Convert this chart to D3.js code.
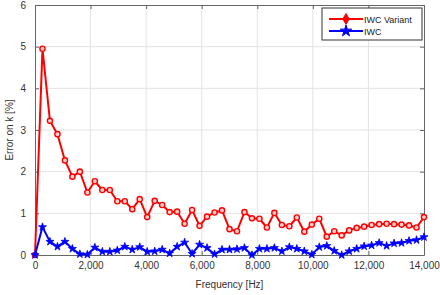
<!DOCTYPE html>
<html>
<head>
<meta charset="utf-8">
<script src="https://cdn.jsdelivr.net/npm/d3@7"></script>
<style>
  body { margin: 0; background: #fff; }
  svg { font-family: "Liberation Sans", Arial, sans-serif; }
  .grid line { stroke: #e3e3e3; stroke-width: 1; }
  .tick-label { fill: #333; font-size: 10px; }
  .axis-title { fill: #333; font-size: 10px; }
</style>
</head>
<body>
<svg id="chart" width="440" height="295"></svg>
<script>
// frequency samples [Hz]
const frequencies = [0, 269, 538, 808, 1077, 1346, 1615, 1885, 2154, 2423, 2692, 2962, 3231,
    3500, 3769, 4038, 4308, 4577, 4846, 5115, 5385, 5654, 5923, 6192, 6462, 6731, 7000,
    7269, 7538, 7808, 8077, 8346, 8615, 8885, 9154, 9423, 9692, 9962, 10231, 10500, 10769,
    11038, 11308, 11577, 11846, 12115, 12385, 12654, 12923, 13192, 13462, 13731, 14000];

const iwcVariant = [0, 4.95, 3.22, 2.9, 2.27, 1.88, 2.0, 1.5, 1.77, 1.56, 1.56, 1.29, 1.29,
    1.1, 1.34, 0.91, 1.3, 1.2, 1.03, 1.04, 0.75, 1.08, 0.7, 0.92, 1.02, 1.07, 0.62,
    0.57, 1.03, 0.88, 0.87, 0.66, 1.01, 0.72, 0.69, 0.9, 0.56, 0.73, 0.87, 0.44, 0.57,
    0.47, 0.59, 0.65, 0.68, 0.72, 0.74, 0.75, 0.74, 0.73, 0.71, 0.66, 0.91];

const iwc = [0, 0.67, 0.32, 0.2, 0.32, 0.15, 0.02, 0.01, 0.18, 0.08, 0.08, 0.11, 0.2,
    0.13, 0.19, 0.08, 0.09, 0.13, 0.04, 0.2, 0.3, 0.03, 0.25, 0.17, 0.02, 0.13, 0.13,
    0.14, 0.17, 0.0, 0.15, 0.15, 0.17, 0.09, 0.19, 0.15, 0.09, 0.01, 0.19, 0.22, 0.1,
    0.0, 0.09, 0.15, 0.21, 0.23, 0.29, 0.22, 0.28, 0.29, 0.34, 0.36, 0.43];

const xTicks = [0, 2000, 4000, 6000, 8000, 10000, 12000, 14000];
const yTicks = [0, 1, 2, 3, 4, 5, 6];
const seriesNames = ['IWC Variant', 'IWC'];

const margin = { top: 5, right: 16, bottom: 40, left: 35 };
const width = 440 - margin.left - margin.right;
const height = 295 - margin.top - margin.bottom;

const svg = d3.select('#chart');
const g = svg.append('g').attr('transform', `translate(${margin.left},${margin.top})`);

const x = d3.scaleLinear().domain([0, 14000]).range([0, width]);
const y = d3.scaleLinear().domain([0, 6]).range([height, 0]);

// grid
const grid = g.append('g').attr('class', 'grid');
grid.selectAll('line.gx').data(xTicks.slice(1, -1)).enter().append('line')
    .attr('x1', d => x(d)).attr('x2', d => x(d)).attr('y1', 0).attr('y2', height);
grid.selectAll('line.gy').data(yTicks.slice(1, -1)).enter().append('line')
    .attr('x1', 0).attr('x2', width).attr('y1', d => y(d)).attr('y2', d => y(d));

// axes, ticks pointing inward like matlab
const fmt = d3.format(',');
const xAxis = g.append('g').attr('transform', `translate(0,${height})`)
    .call(d3.axisBottom(x).tickValues(xTicks).tickFormat(fmt).tickSizeInner(-4).tickSizeOuter(0).tickPadding(7));
const xTop = g.append('g')
    .call(d3.axisTop(x).tickValues(xTicks).tickFormat('').tickSizeInner(-4).tickSizeOuter(0));
const yAxis = g.append('g')
    .call(d3.axisLeft(y).tickValues(yTicks).tickFormat(d3.format('d')).tickSizeInner(-4).tickSizeOuter(0).tickPadding(9));
const yRight = g.append('g').attr('transform', `translate(${width},0)`)
    .call(d3.axisRight(y).tickValues(yTicks).tickFormat('').tickSizeInner(-4).tickSizeOuter(0));

[xAxis, xTop, yAxis, yRight].forEach(a => {
    a.select('.domain').attr('stroke', '#666');
    a.selectAll('.tick line').attr('stroke', '#666');
    a.selectAll('.tick text').attr('class', 'tick-label').attr('font-size', null).attr('fill', null)
        .style('font-family', '"Liberation Sans", Arial, sans-serif');
});

// series
const series = [
    { name: seriesNames[0], values: iwcVariant, color: '#ff0000' },
    { name: seriesNames[1], values: iwc, color: '#0000ff' }
];

const line = d3.line()
    .x((d, i) => x(frequencies[i]))
    .y(d => y(d));

const star = d3.symbol().type(d3.symbolStar).size(20);

series.forEach((s, k) => {
    g.append('path')
        .datum(s.values)
        .attr('fill', 'none')
        .attr('stroke', s.color)
        .attr('stroke-width', 2)
        .attr('stroke-linejoin', 'round')
        .attr('d', line);

    if (k === 0) {
        g.selectAll('circle.m0').data(s.values).enter().append('circle')
            .attr('cx', (d, i) => x(frequencies[i]))
            .attr('cy', d => y(d))
            .attr('r', 2.6)
            .attr('fill', '#ffd0d0')
            .attr('stroke', s.color)
            .attr('stroke-width', 1.4);
    } else {
        g.selectAll('path.m1').data(s.values).enter().append('path')
            .attr('transform', (d, i) => `translate(${x(frequencies[i])},${y(d)})`)
            .attr('d', star)
            .attr('fill', s.color)
            .attr('stroke', s.color)
            .attr('stroke-width', 0.8);
    }
});

// axis titles
svg.append('text').attr('class', 'axis-title')
    .attr('x', margin.left + width / 2).attr('y', 288)
    .attr('text-anchor', 'middle')
    .text('Frequency [Hz]');
svg.append('text').attr('class', 'axis-title')
    .attr('transform', `translate(13,${margin.top + height / 2}) rotate(-90)`)
    .attr('text-anchor', 'middle')
    .text('Error on k [%]');

// legend
const lg = g.append('g').attr('transform', `translate(${width - 102},3)`);
lg.append('rect').attr('width', 100).attr('height', 32)
    .attr('fill', '#fff').attr('stroke', '#333').attr('stroke-width', 1);
series.forEach((s, k) => {
    const row = lg.append('g').attr('transform', `translate(0,${11 + k * 12})`);
    row.append('line').attr('x1', 7).attr('x2', 41).attr('stroke', s.color).attr('stroke-width', 2);
    if (k === 0) {
        row.append('path').attr('transform', 'translate(24,0)')
            .attr('d', d3.symbol().type(d3.symbolDiamond).size(34))
            .attr('fill', s.color).attr('stroke', s.color);
    } else {
        row.append('path').attr('transform', 'translate(24,0)')
            .attr('d', d3.symbol().type(d3.symbolStar).size(40))
            .attr('fill', s.color).attr('stroke', s.color);
    }
    row.append('text').attr('x', 42).attr('y', 3.5)
        .attr('font-size', 9).attr('fill', '#222')
        .text(s.name);
});
</script>
</body>
</html>
